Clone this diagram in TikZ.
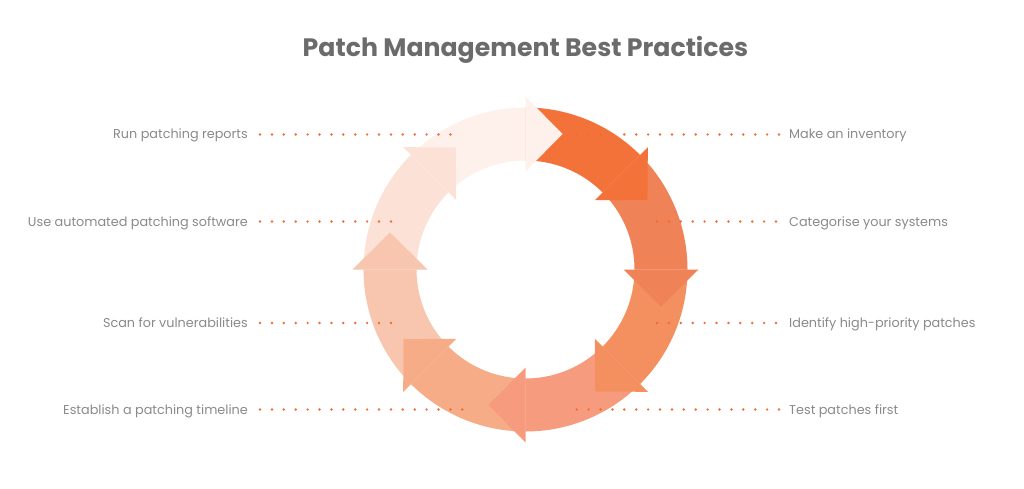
\documentclass[tikz,border=0pt]{standalone}
\usepackage{fontspec}
\setmainfont{Poppins}
\definecolor{c1}{HTML}{F3723A}
\definecolor{c2}{HTML}{EF8257}
\definecolor{c3}{HTML}{F4905F}
\definecolor{c4}{HTML}{F69B7D}
\definecolor{c5}{HTML}{F7AC88}
\definecolor{c6}{HTML}{F8C6AE}
\definecolor{c7}{HTML}{FCE2D6}
\definecolor{c8}{HTML}{FEF1EB}
\definecolor{labc}{HTML}{8A8A8A}
\definecolor{titc}{HTML}{6B6B6B}
\definecolor{dotc}{HTML}{F26B35}
\begin{document}
\begin{tikzpicture}[x=1pt,y=1pt,
  leader/.style={draw=dotc, line width=2.7pt, line cap=round, dash pattern=on 0pt off 11.9pt},
  lab/.style={text=labc, font=\fontsize{12.8}{15}\selectfont, inner sep=0pt},
  titlestyle/.style={text=titc, font=\fontsize{25.2}{29}\selectfont\bfseries, inner sep=0pt}]
\useasboundingbox (0,0) rectangle (1024,488);
\fill[white] (0,0) rectangle (1024,488);
\coordinate (C) at (525.5,218.5);
% ring bands
\foreach \a/\c in {90/c1,45/c2,0/c3,-45/c4,-90/c5,-135/c6,-180/c7,-225/c8}{
  \fill[\c, shift={(C)}] (\a:162) arc[start angle=\a, end angle=\a-45, radius=162]
     -- (\a-45:109) arc[start angle=\a-45, end angle=\a, radius=109] -- cycle;
}
% arrow heads
\foreach \a/\c in {90/c1,45/c2,0/c3,-45/c4,-90/c5,-135/c6,-180/c7,-225/c8}{
  \fill[\c, shift={(C)}, rotate=\a-45] (98,0) -- (173,0) -- (135.5,-37) -- cycle;
}
% title
\node[titlestyle, anchor=base] (title) at (525.5,431) {Patch Management Best Practices};
% left labels
\node[lab, anchor=base east] (l1) at (248,349) {Run patching reports};
\node[lab, anchor=base east] (l2) at (248,262) {Use automated patching software};
\node[lab, anchor=base east] (l3) at (248,160.5) {Scan for vulnerabilities};
\node[lab, anchor=base east] (l4) at (248,74) {Establish a patching timeline};
% right labels
\node[lab, anchor=base west] (r1) at (789,349) {Make an inventory};
\node[lab, anchor=base west] (r2) at (789,262) {Categorise your systems};
\node[lab, anchor=base west] (r3) at (789,160.5) {Identify high-priority patches};
\node[lab, anchor=base west] (r4) at (789,74) {Test patches first};
% leader coordinates
\coordinate (l1a) at (260,353.5); \coordinate (l1b) at (451,353.5);
\coordinate (l2a) at (260,266.5); \coordinate (l2b) at (391,266.5);
\coordinate (l3a) at (260,165);   \coordinate (l3b) at (391,165);
\coordinate (l4a) at (260,78.5);  \coordinate (l4b) at (463,78.5);
\coordinate (r1a) at (779,353.5); \coordinate (r1b) at (576,353.5);
\coordinate (r2a) at (776,266.5); \coordinate (r2b) at (654,266.5);
\coordinate (r3a) at (776,165);   \coordinate (r3b) at (654,165);
\coordinate (r4a) at (779,78.5);  \coordinate (r4b) at (576,78.5);
\foreach \p in {l1,l2,l3,l4,r1,r2,r3,r4}{
  \draw[leader] (\p a) -- (\p b);
}
\end{tikzpicture}
\end{document}
